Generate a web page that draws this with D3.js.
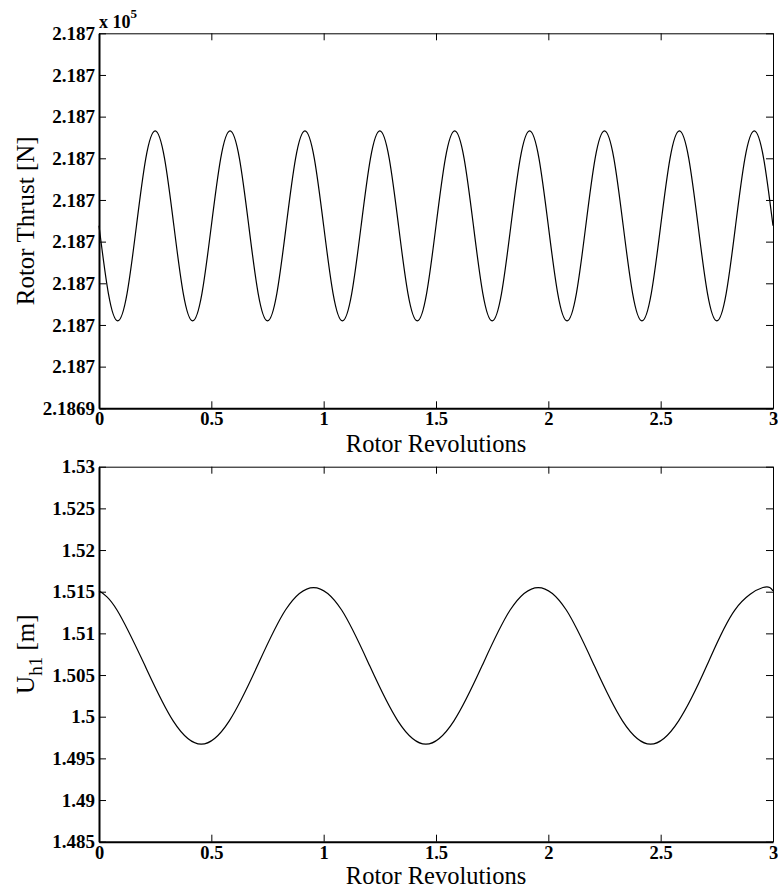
<!DOCTYPE html>
<html>
<head>
<meta charset="utf-8">
<script src="https://cdn.jsdelivr.net/npm/d3@7"></script>
<style>
    body { margin: 0; background: #fff; }
    svg { display: block; }
    .tick text { font-family: "Liberation Serif", "Times New Roman", serif; font-weight: bold; }
</style>
</head>
<body>
<div id="chart"></div>
<script>
// Rotor revolutions sampled for the thrust trace (1/24 rev steps)
var thrustTime = [
    0, 0.0417, 0.0833, 0.125, 0.1667, 0.2083, 0.25, 0.2917,
    0.3333, 0.375, 0.4167, 0.4583, 0.5, 0.5417, 0.5833, 0.625,
    0.6667, 0.7083, 0.75, 0.7917, 0.8333, 0.875, 0.9167, 0.9583,
    1, 1.0417, 1.0833, 1.125, 1.1667, 1.2083, 1.25, 1.2917,
    1.3333, 1.375, 1.4167, 1.4583, 1.5, 1.5417, 1.5833, 1.625,
    1.6667, 1.7083, 1.75, 1.7917, 1.8333, 1.875, 1.9167, 1.9583,
    2, 2.0417, 2.0833, 2.125, 2.1667, 2.2083, 2.25, 2.2917,
    2.3333, 2.375, 2.4167, 2.4583, 2.5, 2.5417, 2.5833, 2.625,
    2.6667, 2.7083, 2.75, 2.7917, 2.8333, 2.875, 2.9167, 2.9583,
    3
];
// Rotor thrust [N]
var thrustValue = [
    218692.19, 218691.38, 218691.05, 218691.38, 218692.19, 218693.00, 218693.33, 218693.00,
    218692.19, 218691.38, 218691.05, 218691.38, 218692.19, 218693.00, 218693.33, 218693.00,
    218692.19, 218691.38, 218691.05, 218691.38, 218692.19, 218693.00, 218693.33, 218693.00,
    218692.19, 218691.38, 218691.05, 218691.38, 218692.19, 218693.00, 218693.33, 218693.00,
    218692.19, 218691.38, 218691.05, 218691.38, 218692.19, 218693.00, 218693.33, 218693.00,
    218692.19, 218691.38, 218691.05, 218691.38, 218692.19, 218693.00, 218693.33, 218693.00,
    218692.19, 218691.38, 218691.05, 218691.38, 218692.19, 218693.00, 218693.33, 218693.00,
    218692.19, 218691.38, 218691.05, 218691.38, 218692.19, 218693.00, 218693.33, 218693.00,
    218692.19, 218691.38, 218691.05, 218691.38, 218692.19, 218693.00, 218693.33, 218693.00,
    218692.19
];
var thrustTicks = [218690, 218690.5, 218691, 218691.5, 218692, 218692.5, 218693, 218693.5, 218694, 218694.5];
var thrustTickLabels = ["2.1869", "2.187", "2.187", "2.187", "2.187", "2.187", "2.187", "2.187", "2.187", "2.187"];

// Displacement U_h1 [m]
var uTime = [0, 0.08, 0.205, 0.33, 0.455, 0.58, 0.705, 0.83, 0.955, 1.08, 1.205, 1.33, 1.455,
    1.58, 1.705, 1.83, 1.955, 2.08, 2.205, 2.33, 2.455, 2.58, 2.705, 2.83, 2.955, 3];
var uValue = [1.5151, 1.5128, 1.5061, 1.4995, 1.4967, 1.4995, 1.5061, 1.5128, 1.5155, 1.5128, 1.5061, 1.4995, 1.4967,
    1.4995, 1.5061, 1.5128, 1.5155, 1.5128, 1.5061, 1.4995, 1.4967, 1.4995, 1.5061, 1.5128, 1.5155, 1.5151];
var uTicks = [1.485, 1.49, 1.495, 1.5, 1.505, 1.51, 1.515, 1.52, 1.525, 1.53];
var uTickLabels = ["1.485", "1.49", "1.495", "1.5", "1.505", "1.51", "1.515", "1.52", "1.525", "1.53"];

var revTicks = [0, 0.5, 1, 1.5, 2, 2.5, 3];
var revTickLabels = ["0", "0.5", "1", "1.5", "2", "2.5", "3"];

var W = 778, H = 890;
var serif = '"Liberation Serif", "Times New Roman", serif';

function drawPanel(svg, box, times, values, yTicks, yLabels, titleGap) {
    var x = d3.scaleLinear().domain([0, 3]).range([box.left, box.right]);
    var y = d3.scaleLinear().domain([yTicks[0], yTicks[yTicks.length - 1]]).range([box.bottom, box.top]);
    var tickLen = 7;

    // mirrored ticks on top and right, no labels
    svg.append("g")
        .attr("transform", "translate(0," + box.top + ")")
        .call(d3.axisTop(x).tickValues(revTicks).tickSizeInner(-tickLen).tickSizeOuter(0).tickFormat(""))
        .call(function (g) { g.select(".domain").attr("stroke-width", 1); });
    svg.append("g")
        .attr("transform", "translate(" + box.right + ",0)")
        .call(d3.axisRight(y).tickValues(yTicks).tickSizeInner(-tickLen).tickSizeOuter(0).tickFormat(""))
        .call(function (g) { g.select(".domain").attr("stroke-width", 1); });

    // bottom axis
    var xa = svg.append("g")
        .attr("transform", "translate(0," + box.bottom + ")")
        .call(d3.axisBottom(x).tickValues(revTicks).tickSizeInner(-tickLen).tickSizeOuter(0)
            .tickPadding(4)
            .tickFormat(function (d, i) { return revTickLabels[i]; }));
    xa.select(".domain").attr("stroke-width", 2);
    xa.selectAll(".tick text").attr("font-size", 18.5).attr("fill", "#000");

    // left axis
    var ya = svg.append("g")
        .attr("transform", "translate(" + box.left + ",0)")
        .call(d3.axisLeft(y).tickValues(yTicks).tickSizeInner(-tickLen).tickSizeOuter(0)
            .tickPadding(4)
            .tickFormat(function (d, i) { return yLabels[i]; }));
    ya.select(".domain").attr("stroke-width", 2);
    ya.selectAll(".tick text").attr("font-size", 19).attr("fill", "#000");

    var line = d3.line()
        .x(function (d) { return x(d[0]); })
        .y(function (d) { return y(d[1]); })
        .curve(d3.curveNatural);

    svg.append("path")
        .datum(d3.zip(times, values))
        .attr("fill", "none")
        .attr("stroke", "#000")
        .attr("stroke-width", 1.2)
        .attr("d", line);

    svg.append("text")
        .attr("x", (box.left + box.right) / 2)
        .attr("y", box.bottom + titleGap)
        .attr("text-anchor", "middle")
        .attr("font-family", serif)
        .attr("font-size", 24.5)
        .text("Rotor Revolutions");
}

function main() {
    var svg = d3.select("#chart").append("svg")
        .attr("width", W)
        .attr("height", H)
        .style("background", "#fff");

    var top = { left: 99, right: 773, top: 33.3, bottom: 408.3 };
    var bot = { left: 99, right: 773, top: 466.7, bottom: 841.7 };

    drawPanel(svg, top, thrustTime, thrustValue, thrustTicks, thrustTickLabels, 43.5);
    drawPanel(svg, bot, uTime, uValue, uTicks, uTickLabels, 42);

    // exponent marker
    var ex = svg.append("text")
        .attr("x", 99)
        .attr("y", 28)
        .attr("font-family", serif)
        .attr("font-weight", "bold")
        .attr("font-size", 18);
    ex.append("tspan").text("x 10");
    ex.append("tspan").attr("dy", -10).attr("font-size", 13).text("5");

    // y titles
    svg.append("text")
        .attr("transform", "translate(34," + ((top.top + top.bottom) / 2) + ") rotate(-90)")
        .attr("text-anchor", "middle")
        .attr("font-family", serif)
        .attr("font-size", 25)
        .text("Rotor Thrust [N]");

    var ut = svg.append("text")
        .attr("transform", "translate(34," + ((bot.top + bot.bottom) / 2) + ") rotate(-90)")
        .attr("text-anchor", "middle")
        .attr("font-family", serif)
        .attr("font-size", 25);
    ut.append("tspan").text("U");
    ut.append("tspan").attr("dy", 8).attr("font-size", 19).text("h1");
    ut.append("tspan").attr("dy", -8).text(" [m]");
}

main();
</script>
</body>
</html>
